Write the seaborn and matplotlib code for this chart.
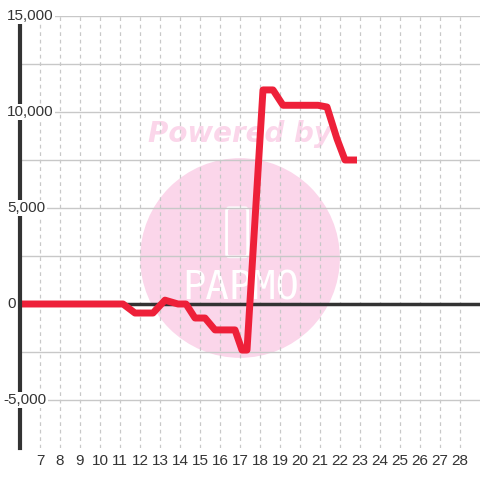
import numpy as np
import pandas as pd
import matplotlib.pyplot as plt
import seaborn as sns
from matplotlib.patches import Circle, FancyBboxPatch

# data (x = day, y = value)
days = [6.0, 11.15, 11.75, 12.65, 13.25, 13.9, 14.3, 14.75, 15.25, 15.75,
        16.75, 17.1, 17.35, 18.15, 18.65, 19.15, 20.9, 21.35, 21.85, 22.25,
        22.85]
values = [0, 0, -470, -470, 200, 0, 0, -730, -730, -1350,
          -1350, -2400, -2400, 11150, 11150, 10350, 10350, 10260, 8600, 7500,
          7500]
x_ticks = list(range(7, 29))
y_ticks = [-5000, 0, 5000, 10000, 15000]
y_grid = [-5000, -2500, 0, 2500, 5000, 7500, 10000, 12500, 15000]

df = pd.DataFrame({'day': days, 'value': values})

sns.set_style('white')
plt.rcParams['font.family'] = ['Liberation Sans', 'DejaVu Sans']

fig = plt.figure(figsize=(4.8, 4.8), dpi=100)
fig.patch.set_facecolor('white')
ax = fig.add_axes([20 / 480, 32 / 480, 460 / 480, 432 / 480])
ax.set_facecolor('none')
ax.set_xlim(6, 29)
ax.set_ylim(-7500, 15000)

# watermark behind the axes (square figure keeps the circle round)
wm = '#fbd6ea'
fig.patches.append(Circle((0.5, 0.4625), 0.208, transform=fig.transFigure,
                          color=wm, lw=0, zorder=-2))
fig.text(0.5, 0.72, 'Powered by', ha='center', va='center', fontsize=20,
         fontweight='bold', fontstyle='italic', color=wm,
         family='DejaVu Sans', zorder=-2)
fig.patches.append(FancyBboxPatch((0.472, 0.465), 0.044, 0.102,
                                  boxstyle='round,pad=0,rounding_size=0.006',
                                  transform=fig.transFigure, fill=False,
                                  ec='white', lw=2, zorder=-1))
fig.text(0.502, 0.4, 'PAPMO', ha='center', va='center', fontsize=28,
         color='white', family='DejaVu Sans Mono', zorder=-1)

# grid
for x in x_ticks:
    ax.axvline(x, color='#c8c8c8', lw=0.9, ls=(0, (3, 3)), zorder=1)
for y in y_grid:
    ax.axhline(y, color='#c8c8c8', lw=1.0, zorder=1)

ax.axhline(0, color='#333333', lw=2.5, zorder=3)

sns.lineplot(data=df, x='day', y='value', ax=ax, color='#ee2039', lw=5,
             zorder=4, solid_joinstyle='round', solid_capstyle='butt')

for s in ['top', 'right', 'bottom']:
    ax.spines[s].set_visible(False)
ax.spines['left'].set_color('#333333')
ax.spines['left'].set_linewidth(3)
ax.spines['left'].set_zorder(5)

ax.set_xticks(x_ticks)
ax.set_xticklabels([str(x) for x in x_ticks])
ax.set_yticks(y_ticks)
ax.set_yticklabels([])
ax.tick_params(axis='both', length=0, labelsize=11, colors='#333333')
ax.tick_params(axis='x', pad=4)

# y labels sit over the axis line with a white backing
for y in y_ticks:
    xpos = -13 / 460 if y >= 0 else -17 / 460
    ax.text(xpos, y, f'{y:,}', transform=ax.get_yaxis_transform(),
            ha='left', va='center', fontsize=11, color='#333333', zorder=10,
            bbox=dict(facecolor='white', edgecolor='none', pad=1))

ax.set_xlabel('')
ax.set_ylabel('')

fig.savefig('out.png', dpi=100)
